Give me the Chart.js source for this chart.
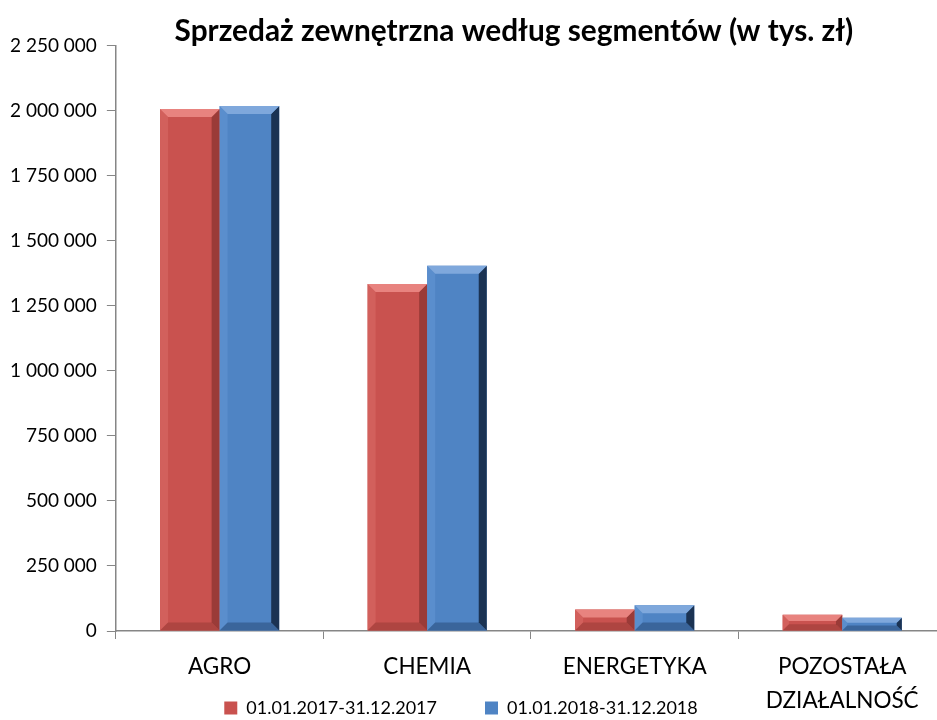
<!DOCTYPE html>
<html>
<head>
<meta charset="utf-8">
<script src="https://cdn.jsdelivr.net/npm/chart.js@4.4.1/dist/chart.umd.min.js"></script>
<style>
  html, body { margin: 0; padding: 0; background: #fff; overflow: hidden; }
  #wrap { position: relative; width: 946px; height: 727px; }
</style>
</head>
<body>
<div id="wrap"><canvas id="salesChart"></canvas></div>
<script>
// Segment names and sales (thousand PLN)
const categories = ['AGRO', 'CHEMIA', 'ENERGETYKA', ['POZOSTAŁA', 'DZIAŁALNOŚĆ']];
const sales2017 = [2007000, 1334000, 83000, 62000];
const sales2018 = [2019000, 1404000, 99000, 51000];
const seriesLabels = ['01.01.2017-31.12.2017', '01.01.2018-31.12.2018'];
const yTicks = { min: 0, max: 2250000, step: 250000 };

const axisGrey = '#868686';

// Shades used for the bevelled look of each series
const bevelColors = [
    { body: '#C9524F', top: '#E8837F', left: '#D2605C', right: '#9A3B38', bottom: '#AE4541' },
    { body: '#4F84C4', top: '#7FA8DC', left: '#5A8ECD', right: '#1B3353', bottom: '#3A659B' }
];

// Format numbers with a space as the thousands separator
function formatThousands(value) {
    return String(value).replace(/\B(?=(\d{3})+(?!\d))/g, ' ');
}

// Draw bevel edges on top of every bar, using the bar geometry from Chart.js
const bevelPlugin = {
    id: 'bevel',
    afterDatasetsDraw(chart) {
        const ctx = chart.ctx;
        chart.data.datasets.forEach((ds, di) => {
            const c = bevelColors[di];
            chart.getDatasetMeta(di).data.forEach(bar => {
                const l = bar.x - bar.width / 2;
                const r = bar.x + bar.width / 2;
                const t = Math.min(bar.y, bar.base);
                const b = Math.max(bar.y, bar.base);
                const s = Math.min(8, (b - t) / 2.5);
                const poly = (pts, color) => {
                    ctx.beginPath();
                    ctx.moveTo(pts[0][0], pts[0][1]);
                    pts.slice(1).forEach(p => ctx.lineTo(p[0], p[1]));
                    ctx.closePath();
                    ctx.fillStyle = color;
                    ctx.fill();
                };
                ctx.save();
                poly([[l, t], [l + s, t + s], [l + s, b - s], [l, b]], c.left);
                poly([[l, b], [r, b], [r - s, b - s], [l + s, b - s]], c.bottom);
                poly([[r, t], [r, b], [r - s, b - s], [r - s, t + s]], c.right);
                poly([[l, t], [r, t], [r - s, t + s], [l + s, t + s]], c.top);
                ctx.restore();
            });
        });
    }
};

// Nudge title and legend sideways so they sit where the original has them
const nudgePlugin = {
    id: 'nudge',
    afterLayout(chart) {
        if (chart.titleBlock) {
            chart.titleBlock.left -= 17;
            chart.titleBlock.right -= 17;
        }
        if (chart.legend) {
            chart.legend.left -= 12;
            chart.legend.right -= 12;
        }
    }
};

const ctx = document.getElementById('salesChart').getContext('2d');
new Chart(ctx, {
    type: 'bar',
    data: {
        labels: categories,
        datasets: [
            {
                label: seriesLabels[0],
                data: sales2017,
                backgroundColor: bevelColors[0].body,
                borderWidth: 0
            },
            {
                label: seriesLabels[1],
                data: sales2018,
                backgroundColor: bevelColors[1].body,
                borderWidth: 0
            }
        ]
    },
    options: {
        responsive: true,
        maintainAspectRatio: false,
        animation: false,
        layout: {
            padding: { left: 0, right: 0, top: 0, bottom: 0 }
        },
        datasets: {
            bar: {
                categoryPercentage: 0.574,
                barPercentage: 1.0
            }
        },
        plugins: {
            title: {
                display: true,
                text: 'Sprzedaż zewnętrzna według segmentów (w tys. zł)',
                fullSize: false,
                color: '#000',
                font: { family: 'Lato', size: 29.8, weight: 'bold', lineHeight: 1.0 },
                padding: { top: 16, bottom: 0 }
            },
            legend: {
                position: 'bottom',
                labels: {
                    color: '#000',
                    font: { family: 'Lato', size: 18 },
                    boxWidth: 13,
                    boxHeight: 13,
                    padding: 48
                }
            },
            tooltip: { enabled: false }
        },
        scales: {
            x: {
                grid: {
                    offset: true,
                    drawOnChartArea: false,
                    tickLength: 8,
                    color: axisGrey
                },
                border: { color: axisGrey, width: 1.5 },
                ticks: {
                    // mirror keeps the labels from being clipped to the squeezed axis box
                    mirror: true,
                    color: '#000',
                    font: { family: 'Lato', size: 22.5, lineHeight: 1.51 },
                    padding: -53,
                    maxRotation: 0
                },
                afterFit(scale) {
                    scale.height = 20;
                }
            },
            y: {
                min: yTicks.min,
                max: yTicks.max,
                grid: {
                    drawOnChartArea: false,
                    tickLength: 9,
                    color: axisGrey
                },
                border: { color: axisGrey, width: 1.5 },
                ticks: {
                    stepSize: yTicks.step,
                    color: '#000',
                    font: { family: 'Lato', size: 19 },
                    padding: 10,
                    callback: value => formatThousands(value)
                }
            }
        }
    },
    plugins: [bevelPlugin, nudgePlugin]
});
</script>
</body>
</html>
